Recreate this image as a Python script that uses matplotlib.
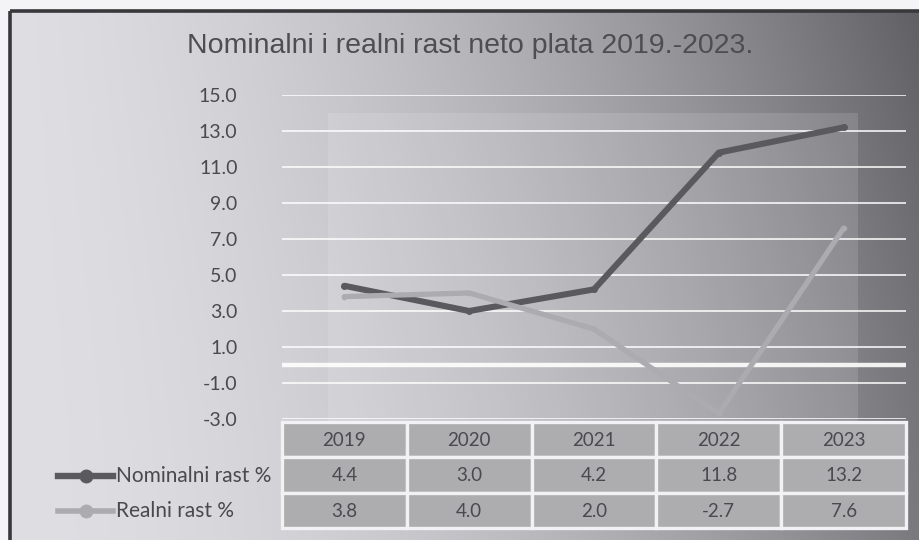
import numpy as np
import matplotlib.pyplot as plt
from matplotlib.patches import Rectangle
from matplotlib.lines import Line2D
from matplotlib.transforms import blended_transform_factory

# data
years = ["2019", "2020", "2021", "2022", "2023"]
nominalni = [4.4, 3.0, 4.2, 11.8, 13.2]
realni = [3.8, 4.0, 2.0, -2.7, 7.6]
series_names = ["Nominalni rast %", "Realni rast %"]
yticks = [-3, -1, 1, 3, 5, 7, 9, 11, 13, 15]

W, H = 919, 540
dark_col = "#5a5a5e"
light_col = "#acacb0"
text_col = "#4a4a4e"
tab_font = "Lato"

fig = plt.figure(figsize=(W / 100, H / 100), dpi=100)
fig.patch.set_facecolor("#f4f4f6")

# background: scanned grey gradient inside a dark frame
bg = fig.add_axes([0, 0, 1, 1], zorder=0)
bg.set_xlim(0, W)
bg.set_ylim(H, 0)
bg.axis("off")
gx = np.linspace(0, 1, 400)
gy = np.linspace(0, 1, 200)
GX, GY = np.meshgrid(gx, gy)
val = 0.87 - 0.40 * GX ** 1.8 - 0.10 * GX * (1 - GY) ** 1.5
img = np.dstack([val, val, val + 0.02])
img = np.clip(img, 0, 1)
bg.imshow(img, extent=(10, W + 5, H + 5, 11), aspect="auto", interpolation="bilinear")
# lighter plot-area block
bg.add_patch(Rectangle((328, 113), 530, 310, facecolor="white", alpha=0.13, edgecolor="none"))
bg.plot([10, 10], [H + 5, 11], color="#38383a", lw=2.6, solid_capstyle="butt")
bg.plot([10, W + 5], [11, 11], color="#38383a", lw=2.6, solid_capstyle="butt")

fig.text(470 / W, 1 - 46 / H, "Nominalni i realni rast neto plata 2019.-2023.",
         ha="center", va="center", fontsize=20.5, color="#4e4e52",
         family="Liberation Sans")

# main plot
left, right = 282 / W, 906 / W
ax = fig.add_axes([left, (H - 419) / H, right - left, (419 - 95) / H], zorder=2)
ax.patch.set_alpha(0)
x = np.arange(len(years))
ax.set_xlim(-0.5, len(years) - 0.5)
ax.set_ylim(-3, 15)
ax.set_yticks(yticks)
ax.set_yticklabels(["%.1f" % v for v in yticks], family=tab_font, fontsize=14, color=text_col)
ax.set_xticks([])
ax.tick_params(axis="y", length=0, pad=32)
for s in ax.spines.values():
    s.set_visible(False)
for v in yticks:
    ax.axhline(v, color="white", lw=1.3, alpha=0.85, zorder=1)
ax.axhline(0, color="white", lw=3.2, alpha=0.9, zorder=1)

ax.plot(x, nominalni, color=dark_col, lw=4.4, marker="o", ms=4,
        solid_capstyle="round", solid_joinstyle="round", zorder=3)
ax.plot(x, realni, color=light_col, lw=3.8, marker="o", ms=3,
        solid_capstyle="round", solid_joinstyle="round", zorder=4)

# data table under the plot
tab = fig.add_axes([left, (H - 528) / H, right - left, (528 - 422) / H], sharex=ax, zorder=2)
tab.patch.set_alpha(0)
tab.set_ylim(3, 0)
tab.axis("off")
rows = [years,
        ["%.1f" % v for v in nominalni],
        ["%.1f" % v for v in realni]]
for r, row in enumerate(rows):
    for i, label in enumerate(row):
        tab.add_patch(Rectangle((i - 0.5, r), 1, 1, facecolor="#adadb0",
                                edgecolor="#f2f2f4", lw=2.4, clip_on=False))
        tab.text(i, r + 0.52, label, ha="center", va="center",
                 family=tab_font, fontsize=13.5, color=text_col)

# row labels with legend keys
tr = blended_transform_factory(fig.transFigure, tab.transData)
for r, (name, col, lw) in enumerate(zip(series_names, [dark_col, light_col], [4.6, 4.0])):
    yy = r + 1.52
    tab.add_line(Line2D([58 / W, 113 / W], [yy, yy], transform=tr, color=col, lw=lw,
                        clip_on=False))
    tab.add_line(Line2D([86 / W], [yy], transform=tr, color=col, marker="o", ms=9,
                        clip_on=False))
    tab.text(116 / W, yy, name, transform=tr, ha="left", va="center",
             family=tab_font, fontsize=15, color=text_col)

fig.savefig("out.png", dpi=100)
